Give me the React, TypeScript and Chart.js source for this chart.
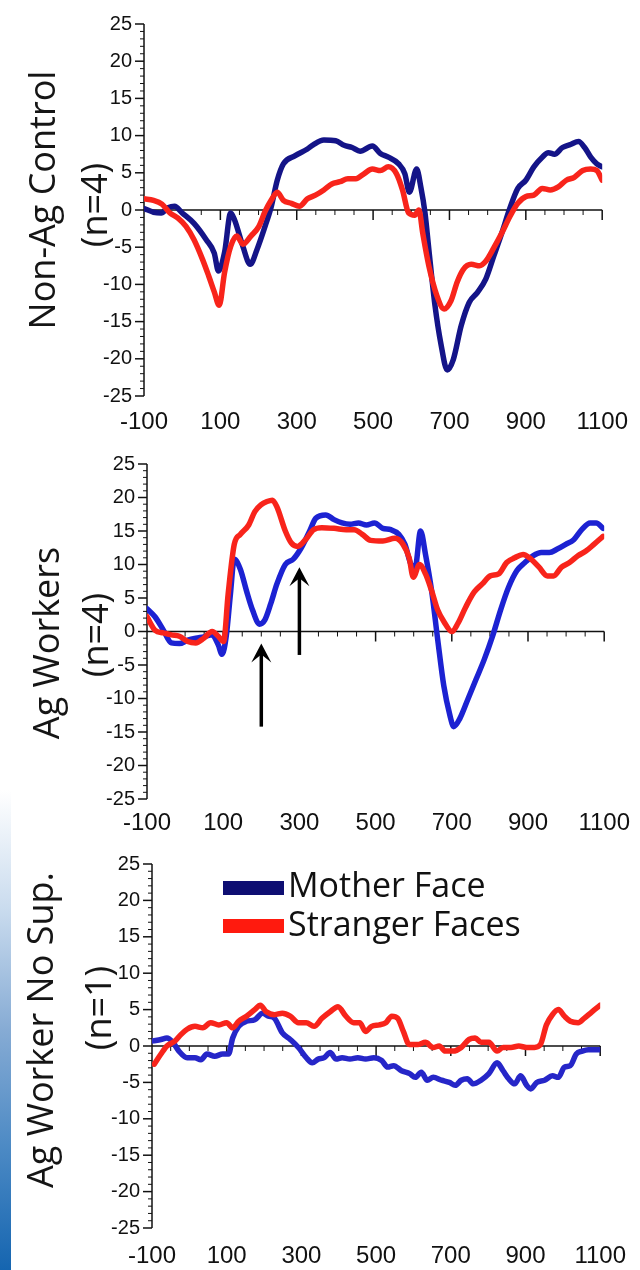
import React, { useEffect, useRef } from "react";
import { Chart, registerables } from "chart.js";

Chart.register(...registerables);

// ---------- data ----------
const xTickValues = [-100, 100, 300, 500, 700, 900, 1100];
const xMin = -100;
const xMax = 1100;
const yMin = -25;
const yMax = 25;
const yStep = 5;
const seriesNames = ["Mother Face", "Stranger Faces"];
const panelTitles = [
  ["Non-Ag Control", "(n=4)"],
  ["Ag Workers", "(n=4)"],
  ["Ag Worker No Sup.", "(n=1)"],
];

// [time ms, amplitude]
const nonAgMother: [number, number][] = [
  [-100, 0.2], [-75, -0.3], [-55, -0.4], [-37, 0.3], [-20, 0.5], [0, -0.4], [31, -1.8], [63, -4],
  [84, -5.8], [95, -8.2], [111, -5.7], [127, -0.4], [137, -1.3], [159, -4.9], [178, -7.3], [196, -5.3],
  [217, -2.2], [233, 0.4], [249, 4], [265, 6.2], [296, 7.3], [328, 8.2], [344, 8.8], [371, 9.4],
  [402, 9.3], [424, 8.7], [445, 8.4], [466, 7.9], [498, 8.6], [519, 7.6], [540, 7.1], [567, 6.2],
  [583, 4.9], [595, 2.4], [614, 5.5], [625, 3.1], [636, -0.4], [646, -5.3], [662, -12.8], [678, -18.1],
  [694, -21.5], [710, -20.1], [731, -15.5], [752, -12.4], [773, -11.1], [795, -9.3], [816, -6.2],
  [837, -3.1], [858, 0.2], [879, 2.9], [900, 4], [921, 5.8], [943, 7.1], [959, 7.7], [975, 7.5],
  [996, 8.4], [1017, 8.8], [1038, 9.2], [1054, 8.4], [1070, 7.1], [1086, 6.2], [1100, 5.8],
];
const nonAgStranger: [number, number][] = [
  [-100, 1.5], [-75, 1.3], [-53, 0.8], [-32, -0.4], [-11, -1.1], [10, -2.2], [31, -4], [53, -6.6],
  [69, -8.8], [84, -11], [97, -12.8], [111, -8.4], [127, -4.9], [143, -3.5], [159, -4.6], [180, -3.5],
  [201, -2.2], [217, -0.2], [233, 1.3], [249, 2.4], [265, 1.3], [286, 0.9], [307, 0.5], [328, 1.5],
  [349, 2], [371, 2.7], [392, 3.5], [413, 3.8], [434, 4.2], [455, 4.2], [477, 4.9], [498, 5.5],
  [519, 5.3], [540, 5.8], [561, 4.9], [577, 2.7], [593, -0.4], [609, -0.7], [620, 0], [630, -3.1],
  [646, -7.5], [667, -11.5], [686, -13.3], [704, -12.2], [720, -9.7], [736, -8], [757, -7.3],
  [779, -7.5], [795, -6.9], [816, -5.1], [837, -3.1], [858, -0.9], [879, 0.9], [900, 1.8], [921, 2],
  [943, 2.9], [964, 2.7], [985, 3.1], [1006, 4], [1027, 4.4], [1049, 5.3], [1070, 5.5], [1086, 5.3],
  [1100, 4],
];

const agMother: [number, number][] = [
  [-100, 3.4], [-79, 2.2], [-57, 0.2], [-36, -1.7], [-15, -1.8], [7, -1.3], [28, -1], [49, -0.8],
  [71, -0.5], [87, -2], [97, -3.4], [108, -0.7], [119, 5.6], [129, 10.8], [145, 9.3], [161, 6.1],
  [177, 3.2], [195, 1.1], [209, 1.7], [225, 4.2], [241, 7.1], [263, 10], [284, 10.8], [305, 12.5],
  [327, 15], [343, 16.9], [369, 17.4], [391, 16.7], [412, 16.2], [433, 16], [455, 16.2], [476, 15.9],
  [497, 16.2], [519, 15.4], [540, 15.2], [561, 14.5], [577, 13], [593, 10], [604, 9.6], [618, 15],
  [631, 11.5], [647, 6.1], [663, -1.2], [679, -8.1], [695, -12.5], [705, -14.2], [721, -13],
  [743, -10], [764, -7.1], [785, -4.2], [807, -0.7], [828, 3.2], [849, 6.6], [871, 9.1], [892, 10.3],
  [913, 11.3], [935, 11.8], [956, 11.8], [977, 12.3], [999, 13], [1020, 13.7], [1041, 15.2],
  [1063, 16.2], [1079, 16.2], [1097, 15.4],
];
const agStranger: [number, number][] = [
  [-100, 2.2], [-79, 0.2], [-57, -0.2], [-36, -0.5], [-15, -0.7], [7, -1.5], [28, -1.7], [49, -1],
  [71, 0], [87, -0.7], [101, -1.5], [113, 5.6], [129, 13], [145, 14.5], [167, 15.9], [183, 17.9],
  [199, 18.9], [215, 19.4], [229, 19.6], [241, 18.6], [263, 15], [279, 13.2], [295, 12.7], [316, 13.7],
  [337, 15.2], [359, 15.5], [391, 15.4], [423, 15.2], [444, 15.2], [465, 14.5], [487, 13.6],
  [519, 13.5], [551, 13.9], [572, 13], [588, 11], [599, 8.1], [615, 10], [631, 8.6], [647, 6.1],
  [663, 3.2], [679, 1.5], [700, 0], [716, 1.2], [737, 3.7], [759, 5.9], [780, 7.1], [801, 8.3],
  [823, 8.6], [844, 10.3], [865, 11], [887, 11.5], [908, 10.8], [929, 9.6], [951, 8.3], [967, 8.3],
  [988, 9.6], [1009, 10.3], [1031, 11.3], [1052, 12], [1073, 13], [1097, 14.2],
];

const noSupMother: [number, number][] = [
  [-97, 0.7], [-76, 0.9], [-60, 1.1], [-44, 0.5], [-28, -0.7], [-6, -1.6], [15, -1.6], [31, -1.9],
  [47, -1.1], [68, -1.4], [89, -1.1], [105, -1.1], [116, 1.1], [132, 2.7], [153, 3.4], [175, 3.6],
  [196, 4.5], [212, 4.1], [228, 3.8], [249, 1.8], [270, 0.9], [292, -0.2], [313, -1.6], [329, -2.3],
  [345, -1.8], [361, -1.6], [377, -0.9], [393, -1.8], [409, -1.6], [430, -1.8], [451, -1.6],
  [472, -1.8], [494, -1.6], [515, -2], [531, -2.9], [547, -2.7], [568, -3.4], [590, -3.8], [605, -4.3],
  [621, -3.6], [637, -4.7], [653, -4.3], [675, -4.7], [696, -5], [712, -5.4], [728, -4.7], [744, -4.5],
  [760, -5.2], [781, -4.7], [802, -3.8], [824, -2.3], [840, -3.4], [855, -4.5], [871, -5.2],
  [887, -4.1], [903, -5.4], [914, -5.9], [930, -5], [951, -4.7], [972, -4.1], [988, -4.3],
  [1004, -2.9], [1020, -2.7], [1036, -1.1], [1052, -0.7], [1068, -0.5], [1084, -0.5], [1100, -0.5],
];
const noSupStranger: [number, number][] = [
  [-94, -2.5], [-76, -1.1], [-60, 0], [-38, 0.7], [-22, 1.6], [-6, 2.3], [15, 2.7], [36, 2.5],
  [57, 3.2], [79, 2.9], [100, 3.2], [116, 2.5], [132, 3.4], [153, 4.1], [175, 5], [190, 5.6],
  [206, 4.7], [228, 4.3], [249, 4.5], [270, 4.1], [292, 3.2], [313, 3.2], [334, 2.7], [355, 3.8],
  [377, 4.7], [398, 5.4], [419, 4.1], [440, 3.2], [456, 3.2], [472, 2], [488, 2.7], [509, 2.9],
  [526, 3.2], [542, 4.1], [558, 3.8], [573, 2], [589, 0.2], [611, 0.2], [632, 0.5], [653, -0.2],
  [669, 0], [685, -0.7], [706, -0.7], [728, -0.2], [749, 0.9], [765, 1.1], [781, 0.5], [802, 0.5],
  [824, -0.7], [840, -0.2], [861, -0.2], [882, 0], [903, -0.2], [924, -0.2], [940, 0.2], [956, 2.9],
  [972, 4.3], [988, 5], [1004, 4.1], [1020, 3.4], [1041, 3.2], [1057, 3.8], [1078, 4.7], [1100, 5.6],
];

// arrows in the Ag Workers panel
const arrowTimes = [200, 300];
const arrowTails = [-14.2, -3.5];
const arrowHeads = [-1.8, 9.6];

// ---------- layout / style ----------
const RED = "#f8241b";
const TICK_FONT = '"Liberation Sans", Arial, sans-serif';
const TITLE_FONT = '"Open Sans", sans-serif';

type PanelCfg = {
  top: number;
  height: number;
  left: number;
  right: number;
  areaTop: number;
  areaBottom: number;
  xLabelPad: number;
  blue: string;
  mother: [number, number][];
  stranger: [number, number][];
  titles: string[];
  titlePos: [number, number][];
  arrows: boolean;
  legend: boolean;
};

const panels: PanelCfg[] = [
  {
    top: 0, height: 440, left: 144, right: 607, areaTop: 21, areaBottom: 396, xLabelPad: 12,
    blue: "#141488", mother: nonAgMother, stranger: nonAgStranger, titles: panelTitles[0],
    titlePos: [[45, 200], [97, 205]], arrows: false, legend: false,
  },
  {
    top: 440, height: 400, left: 147, right: 606, areaTop: 17, areaBottom: 359, xLabelPad: 10,
    blue: "#1c22d2", mother: agMother, stranger: agStranger, titles: panelTitles[1],
    titlePos: [[49, 203], [98, 195]], arrows: true, legend: false,
  },
  {
    top: 840, height: 430, left: 152, right: 612, areaTop: 19, areaBottom: 388, xLabelPad: 14,
    blue: "#2626c8", mother: noSupMother, stranger: noSupStranger, titles: panelTitles[2],
    titlePos: [[43, 190], [101, 168]], arrows: false, legend: true,
  },
];

function makeDecor(cfg: PanelCfg) {
  return {
    id: "decor",
    beforeDatasetsDraw(chart: any) {
      const ctx: CanvasRenderingContext2D = chart.ctx;
      const xs = chart.scales.x;
      const ys = chart.scales.y;
      const a = chart.chartArea;
      ctx.save();
      ctx.strokeStyle = "#111";
      // y axis line + ticks
      ctx.lineWidth = 1.5;
      ctx.beginPath();
      ctx.moveTo(a.left, ys.getPixelForValue(yMax));
      ctx.lineTo(a.left, ys.getPixelForValue(yMin));
      ctx.stroke();
      for (let v = yMin; v <= yMax; v++) {
        const py = ys.getPixelForValue(v);
        const major = v % yStep === 0;
        ctx.lineWidth = major ? 1.5 : 1;
        ctx.beginPath();
        ctx.moveTo(a.left - (major ? 9 : 4), py);
        ctx.lineTo(a.left, py);
        ctx.stroke();
      }
      // zero line + ticks
      const z = ys.getPixelForValue(0);
      ctx.lineWidth = 1.5;
      ctx.beginPath();
      ctx.moveTo(a.left, z);
      ctx.lineTo(xs.getPixelForValue(xMax), z);
      ctx.stroke();
      for (let t = xMin + 50; t <= xMax; t += 50) {
        const px = xs.getPixelForValue(t);
        const major = (t - xMin) % 200 === 0;
        ctx.lineWidth = major ? 1.5 : 1;
        ctx.beginPath();
        ctx.moveTo(px, z);
        ctx.lineTo(px, z + (major ? 10 : 5));
        ctx.stroke();
      }
      ctx.restore();
    },
    afterDraw(chart: any) {
      const ctx: CanvasRenderingContext2D = chart.ctx;
      const xs = chart.scales.x;
      const ys = chart.scales.y;
      ctx.save();
      // rotated axis titles
      ctx.fillStyle = "#151515";
      ctx.font = `36px ${TITLE_FONT}`;
      ctx.textAlign = "center";
      ctx.textBaseline = "middle";
      cfg.titles.forEach((t, i) => {
        const [tx, ty] = cfg.titlePos[i];
        ctx.save();
        ctx.translate(tx, ty);
        ctx.rotate(-Math.PI / 2);
        ctx.fillText(t, 0, 0);
        ctx.restore();
      });
      // arrows
      if (cfg.arrows) {
        ctx.strokeStyle = "#000";
        ctx.fillStyle = "#000";
        arrowTimes.forEach((t, i) => {
          const px = xs.getPixelForValue(t);
          const y0 = ys.getPixelForValue(arrowTails[i]);
          const y1 = ys.getPixelForValue(arrowHeads[i]);
          ctx.lineWidth = 3.5;
          ctx.beginPath();
          ctx.moveTo(px, y0);
          ctx.lineTo(px, y1 + 8);
          ctx.stroke();
          ctx.beginPath();
          ctx.moveTo(px, y1);
          ctx.lineTo(px + 10, y1 + 19);
          ctx.lineTo(px, y1 + 11);
          ctx.lineTo(px - 10, y1 + 19);
          ctx.closePath();
          ctx.fill();
        });
      }
      // legend
      if (cfg.legend) {
        const colors = ["#0e0e72", "#ff1a0e"];
        const rectTops = [41, 79];
        const baselines = [57, 96];
        ctx.font = `34px ${TITLE_FONT}`;
        ctx.textAlign = "left";
        ctx.textBaseline = "alphabetic";
        seriesNames.forEach((name, i) => {
          ctx.fillStyle = colors[i];
          ctx.fillRect(223, rectTops[i], 61, 14);
          ctx.fillStyle = "#111";
          ctx.fillText(name, 288, baselines[i]);
        });
      }
      ctx.restore();
    },
  };
}

function Panel({ cfg }: { cfg: PanelCfg }) {
  const ref = useRef<HTMLCanvasElement>(null);
  useEffect(() => {
    const toPts = (arr: [number, number][]) => arr.map(([x, y]) => ({ x, y }));
    const common = {
      borderWidth: 5.5,
      pointRadius: 0,
      cubicInterpolationMode: "monotone",
      borderJoinStyle: "round",
      borderCapStyle: "round",
      fill: false,
    };
    const chart = new Chart(ref.current as HTMLCanvasElement, {
      type: "line",
      data: {
        datasets: [
          { ...common, label: seriesNames[0], data: toPts(cfg.mother), borderColor: cfg.blue, order: 2 },
          { ...common, label: seriesNames[1], data: toPts(cfg.stranger), borderColor: RED, order: 1 },
        ],
      },
      options: {
        responsive: false,
        animation: false,
        devicePixelRatio: 1,
        layout: {
          padding: { left: 0, right: 640 - cfg.right, top: cfg.areaTop, bottom: 0 },
        },
        plugins: { legend: { display: false }, tooltip: { enabled: false }, title: { display: false } },
        scales: {
          x: {
            type: "linear",
            min: xMin,
            max: xMax,
            grid: { display: false, drawTicks: false },
            border: { display: false },
            afterBuildTicks: (s: any) => {
              s.ticks = xTickValues.map((v) => ({ value: v }));
            },
            afterFit: (s: any) => {
              s.height = cfg.height - cfg.areaBottom;
            },
            ticks: {
              autoSkip: false,
              maxRotation: 0,
              padding: cfg.xLabelPad,
              color: "#111",
              font: { family: TICK_FONT, size: 24 },
              callback: (v: any) => String(v),
            },
          },
          y: {
            min: yMin,
            max: yMax,
            grid: { display: false, drawTicks: false },
            border: { display: false },
            afterFit: (s: any) => {
              s.width = cfg.left;
            },
            ticks: {
              stepSize: yStep,
              padding: 12,
              color: "#111",
              font: { family: TICK_FONT, size: 20 },
              callback: (v: any) => String(v),
            },
          },
        },
      },
      plugins: [makeDecor(cfg)],
    } as any);
    return () => chart.destroy();
  }, [cfg]);
  return (
    <canvas
      ref={ref}
      width={640}
      height={cfg.height}
      style={{ position: "absolute", left: 0, top: cfg.top, width: 640, height: cfg.height }}
    />
  );
}

export default function App() {
  return (
    <div
      style={{
        position: "absolute",
        left: 0,
        top: 0,
        width: 640,
        height: 1270,
        background: "#fff",
        overflow: "hidden",
      }}
    >
      <div
        style={{
          position: "absolute",
          left: 0,
          top: 790,
          width: 11,
          height: 480,
          background: "linear-gradient(to bottom, #ffffff 0%, #c9dbee 25%, #86abd4 50%, #4b89c4 75%, #1565b0 100%)",
        }}
      />
      {panels.map((p, i) => (
        <Panel key={i} cfg={p} />
      ))}
    </div>
  );
}
